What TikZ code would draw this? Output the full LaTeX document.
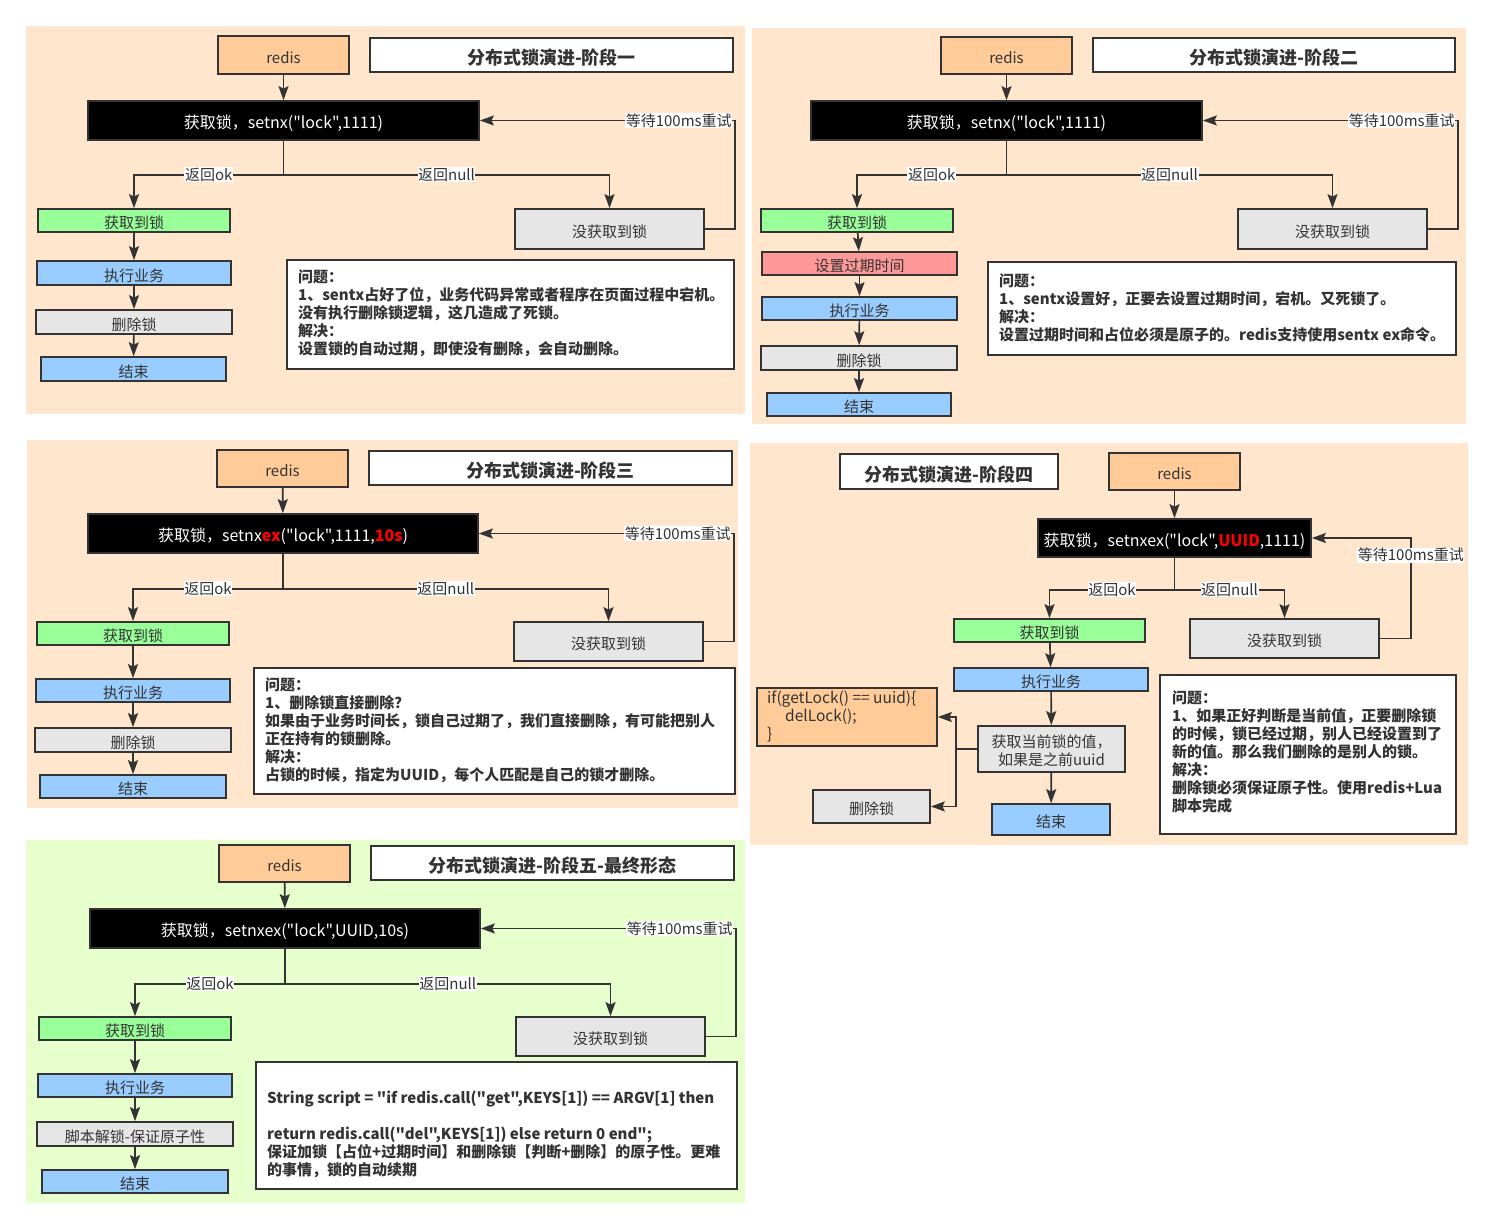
\documentclass[tikz,border=0pt]{standalone}
\usepackage{fontspec}
\setmainfont{Noto Sans CJK SC}[Ligatures=TeXOff]
\usetikzlibrary{arrows.meta}
\definecolor{peach}{HTML}{FFE6CC}
\definecolor{lgreen}{HTML}{E6FFCC}
\definecolor{orng}{HTML}{FFCC99}
\definecolor{grn}{HTML}{99FF99}
\definecolor{blu}{HTML}{99CCFF}
\definecolor{gry}{HTML}{E6E6E6}
\definecolor{rd}{HTML}{FF9999}
\definecolor{ink}{HTML}{333333}
\definecolor{hot}{HTML}{FF0000}
\newcommand\bx[7]{%
  \pgfmathsetmacro\bxw{#4-#2}\pgfmathsetmacro\bxh{#5-#3}%
  \pgfmathsetmacro\bxx{(#2+#4)/2}\pgfmathsetmacro\bxy{(#3+#5)/2}%
  \node[#6, minimum width=\bxw pt, minimum height=\bxh pt] (#1) at (\bxx,\bxy) {#7};}
\newcommand\hl[1]{\textcolor{hot}{\textbf{#1}}}
\begin{document}
\begin{tikzpicture}[x=1pt,y=-1pt,
  box/.style={draw=ink, line width=1.7pt, text=ink, inner sep=0pt, text height=16pt, text depth=0pt, font=\fontsize{15}{18}\selectfont},
  redisbox/.style={box, fill=orng},
  titlebox/.style={box, fill=white, text height=19.5pt, font=\fontsize{18}{22}\selectfont\bfseries},
  keybox/.style={box, fill=black, text=white, font=\fontsize{16}{18}\selectfont},
  okbox/.style={box, fill=grn},
  runbox/.style={box, fill=blu},
  graybox/.style={box, fill=gry},
  redbox/.style={box, fill=rd},
  codebox/.style={box, fill=orng},
  notebox/.style={box, fill=white},
  notetext/.style={anchor=north west, align=left, inner sep=0pt, text=ink, font=\fontsize{15}{18}\selectfont\bfseries},
  ar/.style={draw=ink, line width=1.7pt, -{Stealth[length=14pt,width=10pt,inset=2.5pt]}},
  lbl/.style={fill=white, inner sep=0.6pt, text=ink, font=\fontsize{15}{16}\selectfont}]
\useasboundingbox[fill=white] (0,0) rectangle (1494,1229);

% ---------------- panels ----------------
\fill[peach] (26,26) rectangle (745,414);
\fill[peach] (752,28) rectangle (1466,424);
\fill[peach] (27,440) rectangle (738,808);
\fill[peach] (750,443) rectangle (1468,845);
\fill[lgreen] (26,840) rectangle (745,1203);

% ---------------- panel 1 ----------------
\bx{p1r}{218}{36}{349}{74}{redisbox}{redis}
\bx{p1t}{370}{38}{733}{72}{titlebox}{分布式锁演进-阶段一}
\bx{p1k}{88}{101}{479}{140}{keybox}{获取锁，setnx("lock",1111)}
\bx{p1g}{38}{209}{230}{232}{okbox}{获取到锁}
\bx{p1x}{37}{261}{231}{285}{runbox}{执行业务}
\bx{p1d}{36}{310}{232}{334}{graybox}{删除锁}
\bx{p1e}{41}{357}{226}{381}{runbox}{结束}
\bx{p1n}{515}{209}{704}{249}{graybox}{没获取到锁}
\bx{p1q}{287}{260}{734}{369}{notebox}{}
\node[notetext] (p1qt) at (298,270) {问题：\\1、sentx占好了位，业务代码异常或者程序在页面过程中宕机。\\没有执行删除锁逻辑，这几造成了死锁。\\解决：\\设置锁的自动过期，即使没有删除，会自动删除。};
\draw[ar] (p1r) -- (p1k);
\draw[ar] (p1k.south) -- ++(0,34) -| node[lbl,pos=0.25]{返回ok} (p1g.north);
\draw[ar] (p1k.south) -- ++(0,34) -| node[lbl,pos=0.25]{返回null} (p1n.north);
\draw[ar] (p1n.east) -- ++(30,0) |- node[lbl,pos=0.61]{等待100ms重试} (p1k.east);
\draw[ar] (p1g) -- (p1x);
\draw[ar] (p1x) -- (p1d);
\draw[ar] (p1d) -- (p1e);

% ---------------- panel 2 ----------------
\bx{p2r}{941}{37}{1072}{74}{redisbox}{redis}
\bx{p2t}{1093}{38}{1455}{72}{titlebox}{分布式锁演进-阶段二}
\bx{p2k}{811}{101}{1202}{140}{keybox}{获取锁，setnx("lock",1111)}
\bx{p2g}{761}{209}{953}{232}{okbox}{获取到锁}
\bx{p2s}{762}{252}{957}{275}{redbox}{设置过期时间}
\bx{p2x}{762}{297}{957}{320}{runbox}{执行业务}
\bx{p2d}{761}{346}{957}{370}{graybox}{删除锁}
\bx{p2e}{767}{393}{951}{416}{runbox}{结束}
\bx{p2n}{1238}{209}{1427}{249}{graybox}{没获取到锁}
\bx{p2q}{988}{262}{1456}{355}{notebox}{}
\node[notetext] (p2qt) at (999,274) {问题：\\1、sentx设置好，正要去设置过期时间，宕机。又死锁了。\\解决：\\设置过期时间和占位必须是原子的。redis支持使用sentx ex命令。};
\draw[ar] (p2r) -- (p2k);
\draw[ar] (p2k.south) -- ++(0,34) -| node[lbl,pos=0.25]{返回ok} (p2g.north);
\draw[ar] (p2k.south) -- ++(0,34) -| node[lbl,pos=0.25]{返回null} (p2n.north);
\draw[ar] (p2n.east) -- ++(30,0) |- node[lbl,pos=0.61]{等待100ms重试} (p2k.east);
\draw[ar] (p2g) -- (p2s);
\draw[ar] (p2s) -- (p2x);
\draw[ar] (p2x) -- (p2d);
\draw[ar] (p2d) -- (p2e);

% ---------------- panel 3 ----------------
\bx{p3r}{217}{450}{348}{487}{redisbox}{redis}
\bx{p3t}{369}{451}{732}{485}{titlebox}{分布式锁演进-阶段三}
\bx{p3k}{88}{514}{478}{553}{keybox}{获取锁，setnx\hl{ex}("lock",1111,\hl{10s})}
\bx{p3g}{37}{622}{229}{645}{okbox}{获取到锁}
\bx{p3x}{36}{679}{230}{702}{runbox}{执行业务}
\bx{p3d}{35}{728}{231}{752}{graybox}{删除锁}
\bx{p3e}{40}{775}{226}{798}{runbox}{结束}
\bx{p3n}{514}{622}{703}{661}{graybox}{没获取到锁}
\bx{p3q}{254}{668}{735}{794}{notebox}{}
\node[notetext] (p3qt) at (265,678) {问题：\\1、删除锁直接删除？\\如果由于业务时间长，锁自己过期了，我们直接删除，有可能把别人\\正在持有的锁删除。\\解决：\\占锁的时候，指定为UUID，每个人匹配是自己的锁才删除。};
\draw[ar] (p3r) -- (p3k);
\draw[ar] (p3k.south) -- ++(0,35) -| node[lbl,pos=0.25]{返回ok} (p3g.north);
\draw[ar] (p3k.south) -- ++(0,35) -| node[lbl,pos=0.25]{返回null} (p3n.north);
\draw[ar] (p3n.east) -- ++(30,0) |- node[lbl,pos=0.61]{等待100ms重试} (p3k.east);
\draw[ar] (p3g) -- (p3x);
\draw[ar] (p3x) -- (p3d);
\draw[ar] (p3d) -- (p3e);

% ---------------- panel 4 ----------------
\bx{p4t}{840}{454}{1058}{489}{titlebox}{分布式锁演进-阶段四}
\bx{p4r}{1109}{453}{1240}{490}{redisbox}{redis}
\bx{p4k}{1038}{519}{1311}{557}{keybox}{获取锁，setnxex("lock",\hl{UUID},1111)}
\bx{p4g}{954}{619}{1145}{642}{okbox}{获取到锁}
\bx{p4n}{1190}{619}{1379}{658}{graybox}{没获取到锁}
\bx{p4x}{954}{668}{1148}{691}{runbox}{执行业务}
\bx{p4code}{757}{688}{937}{746}{codebox}{}
\node[anchor=north west, align=left, inner sep=0pt, text=ink, font=\fontsize{15.5}{18}\selectfont] (p4codet) at (767,691) {if(getLock() == uuid)\{\\\hspace*{18pt}delLock();\\\}};
\bx{p4c}{978}{726}{1125}{772}{graybox, text height=, text depth=}{\raisebox{-4pt}[\height][\depth]{\begin{tabular}{@{}c@{}}获取当前锁的值，\\如果是之前uuid\end{tabular}}}
\bx{p4d}{813}{790}{930}{823}{graybox}{删除锁}
\bx{p4e}{992}{804}{1110}{835}{runbox}{结束}
\bx{p4q}{1160}{675}{1456}{834}{notebox}{}
\node[notetext] (p4qt) at (1172,691) {问题：\\1、如果正好判断是当前值，正要删除锁\\的时候，锁已经过期，别人已经设置到了\\新的值。那么我们删除的是别人的锁。\\解决：\\删除锁必须保证原子性。使用redis+Lua\\脚本完成};
\draw[ar] (p4r) -- (p4k);
\draw[ar] (p4k.south) -- ++(0,32) -| node[lbl,pos=0.25]{返回ok} (p4g.north);
\draw[ar] (p4k.south) -- ++(0,32) -| node[lbl,pos=0.25]{返回null} (p4n.north);
\draw[ar] (p4n.east) -- ++(31,0) |- node[lbl,pos=0.415]{等待100ms重试} (p4k.east);
\draw[ar] (p4g) -- (p4x);
\draw[ar] (p4x) -- (p4c);
\draw[ar] (p4c) -- (p4e);
\draw[ar] (p4c.west) -- ++(-21,0) |- (p4code.east);
\draw[ar] (p4c.west) -- ++(-21,0) |- (p4d.east);

% ---------------- panel 5 ----------------
\bx{p5r}{219}{845}{350}{882}{redisbox}{redis}
\bx{p5t}{371}{846}{734}{880}{titlebox}{分布式锁演进-阶段五-最终形态}
\bx{p5k}{90}{909}{480}{948}{keybox}{获取锁，setnxex("lock",UUID,10s)}
\bx{p5g}{39}{1017}{231}{1040}{okbox}{获取到锁}
\bx{p5x}{38}{1074}{232}{1097}{runbox}{执行业务}
\bx{p5d}{37}{1122}{233}{1146}{graybox}{脚本解锁-保证原子性}
\bx{p5e}{42}{1170}{228}{1193}{runbox}{结束}
\bx{p5n}{516}{1017}{705}{1056}{graybox}{没获取到锁}
\bx{p5q}{256}{1062}{737}{1189}{notebox}{}
\node[notetext] (p5qt) at (267,1091) {String script = "if redis.call("get",KEYS[1]) == ARGV[1] then\\[18pt]return redis.call("del",KEYS[1]) else return 0 end";\\保证加锁【占位+过期时间】和删除锁【判断+删除】的原子性。更难\\的事情，锁的自动续期};
\draw[ar] (p5r) -- (p5k);
\draw[ar] (p5k.south) -- ++(0,35) -| node[lbl,pos=0.25]{返回ok} (p5g.north);
\draw[ar] (p5k.south) -- ++(0,35) -| node[lbl,pos=0.25]{返回null} (p5n.north);
\draw[ar] (p5n.east) -- ++(30,0) |- node[lbl,pos=0.61]{等待100ms重试} (p5k.east);
\draw[ar] (p5g) -- (p5x);
\draw[ar] (p5x) -- (p5d);
\draw[ar] (p5d) -- (p5e);
\end{tikzpicture}
\end{document}
